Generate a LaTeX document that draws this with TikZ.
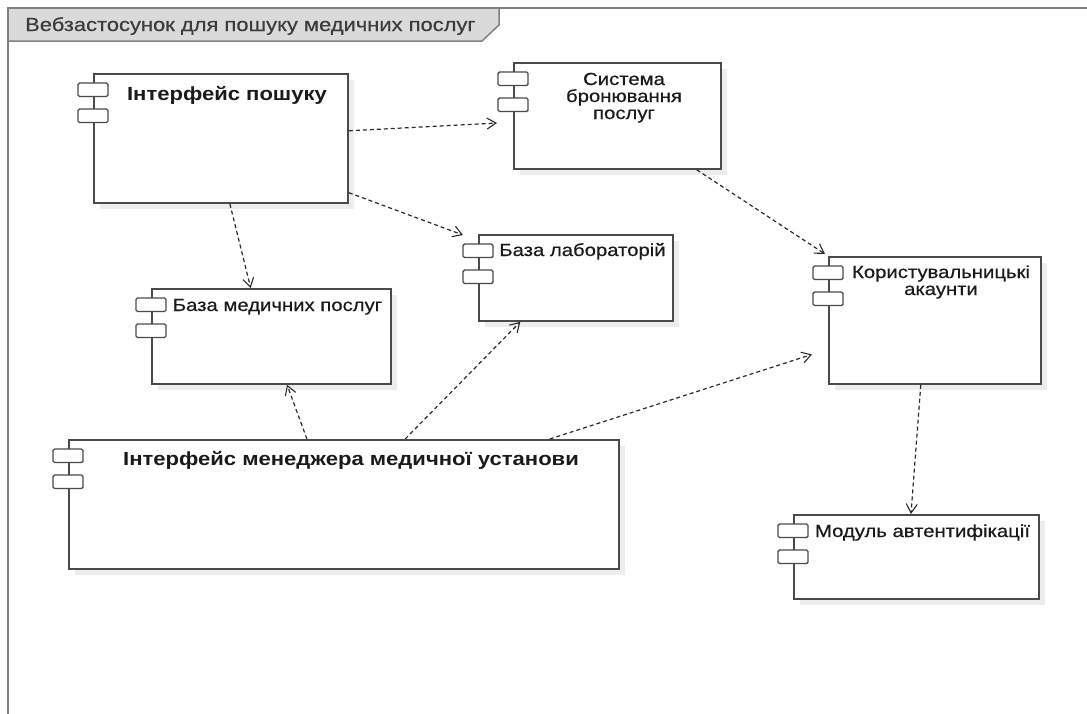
\documentclass[tikz,border=0pt]{standalone}
\usepackage{fontspec}
\newfontfamily\lblfont{Liberation Sans}[FakeStretch=1.16,FakeBold=0.5]
\newfontfamily\blblfont{Liberation Sans}[FakeStretch=1.16,BoldFont={Liberation Sans Bold}]
\usetikzlibrary{arrows.meta,calc,shadows}
\definecolor{boxcol}{HTML}{4A4A4A}
\definecolor{framecol}{HTML}{808080}
\definecolor{tabfill}{HTML}{DADADA}
\definecolor{arrcol}{HTML}{2A2A2A}
\definecolor{txtcol}{HTML}{1A1A1A}
\tikzset{
  comp/.style={draw=boxcol, line width=1.8pt, fill=white, anchor=north west, inner sep=0pt,
    drop shadow={shadow xshift=6pt, shadow yshift=-6pt, fill=black!7, opacity=1}},
  port/.style={draw=boxcol, line width=1.4pt, fill=white, rounded corners=1.5pt,
    minimum width=30pt, minimum height=13.5pt, inner sep=0pt},
  lbl/.style={text=txtcol, font=\lblfont\fontsize{17.5}{17}\selectfont, inner sep=0pt, anchor=base, align=center},
  blbl/.style={lbl, font=\blblfont\bfseries\fontsize{19}{18}\selectfont},
  dep/.style={draw=arrcol, line width=1.2pt, dash pattern=on 4pt off 3pt,
    -{Straight Barb[length=9pt,width=11pt,line width=1.1pt]}}
}
\begin{document}
\begin{tikzpicture}[x=1pt,y=-1pt]
\useasboundingbox (0,0) rectangle (1087,713);
\clip (0,0) rectangle (1087,713);
% frame
\draw[framecol, line width=2.5pt] (8,720) -- (8,8) -- (1095,8);
\draw[framecol, line width=1.5pt, fill=tabfill] (8,8) -- (499,8) -- (499,25) -- (482,41) -- (8,41) -- cycle;
\node[text=txtcol!85!white, font=\lblfont\fontsize{18.9}{18}\selectfont, anchor=base west, inner sep=0pt] (title) at (25,31) {Вебзастосунок для пошуку медичних послуг};

% components
\node[comp, minimum width=254pt, minimum height=129pt] (posh) at (93,73) {};
\node[comp, minimum width=207pt, minimum height=106pt] (sys) at (513,62) {};
\node[comp, minimum width=194pt, minimum height=86pt] (lab) at (478,234) {};
\node[comp, minimum width=239pt, minimum height=95pt] (med) at (151,288) {};
\node[comp, minimum width=212pt, minimum height=127pt] (acc) at (828,256) {};
\node[comp, minimum width=245pt, minimum height=84pt] (auth) at (793,514) {};
\node[comp, minimum width=550pt, minimum height=129pt] (mgr) at (68,439) {};

% ports
\foreach \b in {posh,sys,lab,med,acc,auth,mgr}{
  \node[port] (\b p1) at ($(\b.north west)+(0,16.75)$) {};
  \node[port] (\b p2) at ($(\b.north west)+(0,42.75)$) {};
}

% labels (multi-line nodes: base = last line)
\node[blbl] (poshL) at (227,100) {Інтерфейс пошуку};
\node[lbl] (sysL) at (624,119) {Система\\бронювання\\послуг};
\node[lbl] (labL) at (582.5,256) {База лабораторій};
\node[lbl] (medL) at (277.5,311) {База медичних послуг};
\node[lbl] (accL) at (941,295) {Користувальницькі\\акаунти};
\node[lbl] (authL) at (922.5,537) {Модуль автентифікації};
\node[blbl] (mgrL) at (351,465) {Інтерфейс менеджера медичної установи};

% dependencies
\draw[dep] ($(posh.north east)!0.442!(posh.south east)$) -- ($(sys.north west)!0.566!(sys.south west)+(-16,0)$);
\draw[dep] ($(posh.north east)!0.915!(posh.south east)$) -- ($(lab.north west)+(-15,1)$);
\draw[dep] ($(posh.south west)!0.535!(posh.south east)$) -- ($(med.north west)!0.414!(med.north east)$);
\draw[dep] ($(sys.south west)!0.88!(sys.south east)$) -- ($(acc.north west)+(-3,-2)$);
\draw[dep] ($(mgr.north west)!0.433!(mgr.north east)$) -- ($(med.south west)!0.565!(med.south east)$);
\draw[dep] ($(mgr.north west)!0.611!(mgr.north east)$) -- ($(lab.south west)!0.216!(lab.south east)$);
\draw[dep] ($(mgr.north west)!0.873!(mgr.north east)$) -- ($(acc.north west)!0.764!(acc.south west)+(-16,0)$);
\draw[dep] ($(acc.south west)!0.434!(acc.south east)$) -- ($(auth.north west)!0.478!(auth.north east)$);
\end{tikzpicture}
\end{document}
